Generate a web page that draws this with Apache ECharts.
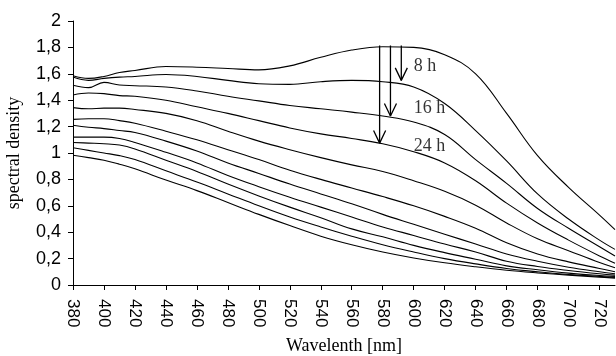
<!DOCTYPE html>
<html>
<head>
<meta charset="utf-8">
<script src="https://cdn.jsdelivr.net/npm/echarts@6/dist/echarts.min.js"></script>
<style>
  html, body { margin: 0; padding: 0; background: #fff; }
  #chart { width: 616px; height: 356px; }
</style>
</head>
<body>
<div id="chart"></div>
<script>
// wavelengths in nm
const wavelengths = [380, 390, 400, 410, 420, 440, 460, 480, 500, 520, 540, 560, 580, 600, 620, 640, 660, 680, 700, 720, 730];

// spectral density curves, top to bottom
const curve1  = [1.585, 1.565, 1.58, 1.61, 1.625, 1.655, 1.65, 1.64, 1.63, 1.66, 1.725, 1.78, 1.805, 1.80, 1.745, 1.60, 1.30, 0.98, 0.74, 0.53, 0.42];
const curve2  = [1.575, 1.55, 1.565, 1.575, 1.58, 1.595, 1.58, 1.55, 1.525, 1.52, 1.54, 1.55, 1.54, 1.50, 1.375, 1.17, 0.94, 0.69, 0.50, 0.34, 0.27];
const curve3  = [1.513, 1.495, 1.535, 1.515, 1.51, 1.50, 1.47, 1.43, 1.395, 1.36, 1.335, 1.31, 1.28, 1.235, 1.14, 0.95, 0.77, 0.58, 0.43, 0.29, 0.22];
const curve4  = [1.44, 1.455, 1.45, 1.435, 1.43, 1.40, 1.35, 1.30, 1.245, 1.19, 1.145, 1.11, 1.07, 1.01, 0.925, 0.79, 0.62, 0.47, 0.34, 0.22, 0.165];
const curve5  = [1.344, 1.335, 1.34, 1.34, 1.33, 1.30, 1.245, 1.165, 1.09, 1.025, 0.965, 0.91, 0.86, 0.79, 0.71, 0.605, 0.47, 0.35, 0.26, 0.17, 0.13];
const curve6  = [1.255, 1.26, 1.26, 1.245, 1.225, 1.165, 1.10, 1.025, 0.95, 0.87, 0.80, 0.735, 0.67, 0.60, 0.52, 0.43, 0.32, 0.235, 0.175, 0.125, 0.10];
const curve7  = [1.21, 1.195, 1.185, 1.17, 1.155, 1.09, 1.015, 0.925, 0.845, 0.765, 0.69, 0.615, 0.535, 0.46, 0.385, 0.31, 0.235, 0.18, 0.135, 0.10, 0.085];
const curve8  = [1.12, 1.12, 1.12, 1.11, 1.08, 1.005, 0.925, 0.83, 0.745, 0.665, 0.59, 0.515, 0.44, 0.375, 0.31, 0.25, 0.18, 0.14, 0.11, 0.085, 0.075];
const curve9  = [1.08, 1.075, 1.07, 1.06, 1.03, 0.945, 0.86, 0.765, 0.675, 0.59, 0.51, 0.425, 0.365, 0.30, 0.245, 0.195, 0.145, 0.115, 0.09, 0.072, 0.065];
const curve10 = [1.04, 1.02, 1.0, 0.98, 0.95, 0.865, 0.78, 0.69, 0.60, 0.515, 0.44, 0.37, 0.305, 0.25, 0.20, 0.16, 0.125, 0.10, 0.08, 0.065, 0.058];
const curve11 = [0.983, 0.965, 0.945, 0.915, 0.88, 0.795, 0.715, 0.625, 0.535, 0.45, 0.37, 0.305, 0.25, 0.205, 0.168, 0.138, 0.112, 0.092, 0.075, 0.06, 0.052];
const curves = [curve1, curve2, curve3, curve4, curve5, curve6, curve7, curve8, curve9, curve10, curve11];

// x tick labels
const xTicks = [380, 400, 420, 440, 460, 480, 500, 520, 540, 560, 580, 600, 620, 640, 660, 680, 700, 720];

// arrows (nm, density) and their hour labels
const arrowX = [592, 585, 578];
const arrowTop = 1.815;
const arrowTip = [1.55, 1.28, 1.075];
const hourLabels = ['8 h', '16 h', '24 h'];
const hourLabelY = [1.657, 1.339, 1.051];
const hourLabelX = 600;

const headW = 3.9;   // nm
const headH = 0.095; // density units

const series = [];
curves.forEach(function (c) {
  series.push({
    type: 'line',
    data: wavelengths.map(function (w, i) { return [w, c[i]]; }),
    smooth: 0.4,
    showSymbol: false,
    silent: true,
    lineStyle: { color: '#000', width: 1.1 }
  });
});
arrowX.forEach(function (x, i) {
  series.push({
    type: 'line', showSymbol: false, silent: true,
    data: [[x, arrowTop], [x, arrowTip[i]]],
    lineStyle: { color: '#000', width: 1.3 }
  });
  series.push({
    type: 'line', showSymbol: false, silent: true,
    data: [[x - headW, arrowTip[i] + headH], [x, arrowTip[i]], [x + headW, arrowTip[i] + headH]],
    lineStyle: { color: '#000', width: 1.3 }
  });
});
series.push({
  type: 'scatter',
  symbolSize: 0,
  silent: true,
  data: hourLabels.map(function (t, i) { return { value: [hourLabelX, hourLabelY[i]], name: t }; }),
  label: {
    show: true,
    position: 'right',
    distance: 0,
    formatter: '{b}',
    fontFamily: 'Liberation Serif',
    fontSize: 18,
    color: '#000'
  }
});

const chart = echarts.init(document.getElementById('chart'));
chart.setOption({
  animation: false,
  grid: { left: 73, right: 1, top: 21, bottom: 71, containLabel: false, outerBoundsMode: 'none' },
  xAxis: {
    type: 'value',
    min: 380,
    max: 730,
    interval: 20,
    name: 'Wavelenth [nm]',
    nameLocation: 'middle',
    nameGap: 52,
    nameTextStyle: { fontFamily: 'Liberation Serif', fontSize: 18, color: '#000' },
    axisLine: { lineStyle: { color: '#000', width: 1 } },
    axisTick: { show: true, length: 5, lineStyle: { color: '#000' }, customValues: xTicks },
    splitLine: { show: false },
    axisLabel: {
      rotate: -90,
      margin: 14,
      customValues: xTicks,
      fontFamily: 'Liberation Sans',
      fontSize: 17,
      color: '#000'
    }
  },
  yAxis: {
    type: 'value',
    min: 0,
    max: 2,
    interval: 0.2,
    name: 'spectral density',
    nameLocation: 'middle',
    nameGap: 50,
    nameTextStyle: { fontFamily: 'Liberation Serif', fontSize: 18, color: '#000' },
    axisLine: { show: true, lineStyle: { color: '#000', width: 1 } },
    axisTick: { show: true, length: 5, lineStyle: { color: '#000' } },
    splitLine: { show: false },
    axisLabel: {
      margin: 12,
      fontFamily: 'Liberation Sans',
      fontSize: 18,
      color: '#000',
      formatter: function (v) { return String(Math.round(v * 10) / 10).replace('.', ','); }
    }
  },
  series: series
});
</script>
</body>
</html>
